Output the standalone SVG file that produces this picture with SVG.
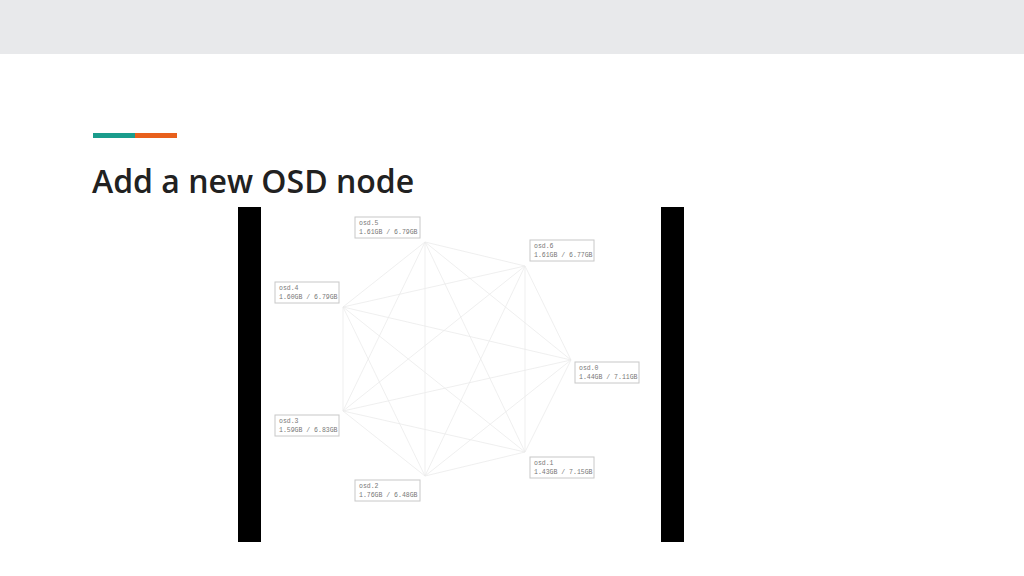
<svg xmlns="http://www.w3.org/2000/svg" width="1024" height="576" viewBox="0 0 1024 576">
<style>
.box{fill:#fff;stroke:#c8c8c8;stroke-width:1}
.t{font-family:"Liberation Mono",monospace;font-size:6.5px;fill:#777}
.e line{stroke:#ebebeb;stroke-width:0.8}
</style>
<rect width="1024" height="576" fill="#fff"/>
<rect width="1024" height="54" fill="#e8e9eb"/>
<rect x="93" y="133" width="42" height="5" fill="#1a9c8c"/>
<rect x="135" y="133" width="42" height="5" fill="#e8601c"/>
<text x="92" y="193" font-family="Open Sans, sans-serif" font-weight="600" font-size="32" fill="#212121">Add a new OSD node</text>
<rect x="238" y="207" width="446" height="335" fill="#000"/>
<rect x="261" y="207" width="400" height="335" fill="#fff"/>
<g class="e" id="connectors">
<line x1="425" y1="242" x2="525" y2="266"/><line x1="425" y1="242" x2="343" y2="307"/><line x1="425" y1="242" x2="571" y2="360"/><line x1="425" y1="242" x2="525" y2="452"/><line x1="425" y1="242" x2="425" y2="476"/><line x1="425" y1="242" x2="343" y2="411"/>
<line x1="525" y1="266" x2="343" y2="307"/><line x1="525" y1="266" x2="571" y2="360"/><line x1="525" y1="266" x2="525" y2="452"/><line x1="525" y1="266" x2="425" y2="476"/><line x1="525" y1="266" x2="343" y2="411"/>
<line x1="343" y1="307" x2="571" y2="360"/><line x1="343" y1="307" x2="525" y2="452"/><line x1="343" y1="307" x2="425" y2="476"/><line x1="343" y1="307" x2="343" y2="411"/>
<line x1="571" y1="360" x2="525" y2="452"/><line x1="571" y1="360" x2="425" y2="476"/><line x1="571" y1="360" x2="343" y2="411"/>
<line x1="525" y1="452" x2="425" y2="476"/><line x1="525" y1="452" x2="343" y2="411"/>
<line x1="425" y1="476" x2="343" y2="411"/>
</g>
<g id="osd5"><rect class="box" x="355" y="217" width="65" height="21"/><text class="t" x="359" y="225">osd.5</text><text class="t" x="359" y="234">1.61GB / 6.79GB</text></g>
<g id="osd6"><rect class="box" x="530" y="240" width="64" height="21"/><text class="t" x="534" y="248">osd.6</text><text class="t" x="534" y="257">1.61GB / 6.77GB</text></g>
<g id="osd4"><rect class="box" x="275" y="282" width="64" height="21"/><text class="t" x="279" y="290">osd.4</text><text class="t" x="279" y="299">1.60GB / 6.79GB</text></g>
<g id="osd0"><rect class="box" x="575" y="362" width="64" height="21"/><text class="t" x="579" y="370">osd.0</text><text class="t" x="579" y="379">1.44GB / 7.11GB</text></g>
<g id="osd3"><rect class="box" x="275" y="415" width="64" height="21"/><text class="t" x="279" y="423">osd.3</text><text class="t" x="279" y="432">1.59GB / 6.83GB</text></g>
<g id="osd1"><rect class="box" x="530" y="457" width="64" height="21"/><text class="t" x="534" y="465">osd.1</text><text class="t" x="534" y="474">1.43GB / 7.15GB</text></g>
<g id="osd2"><rect class="box" x="355" y="480" width="65" height="21"/><text class="t" x="359" y="488">osd.2</text><text class="t" x="359" y="497">1.76GB / 6.48GB</text></g>
</svg>
